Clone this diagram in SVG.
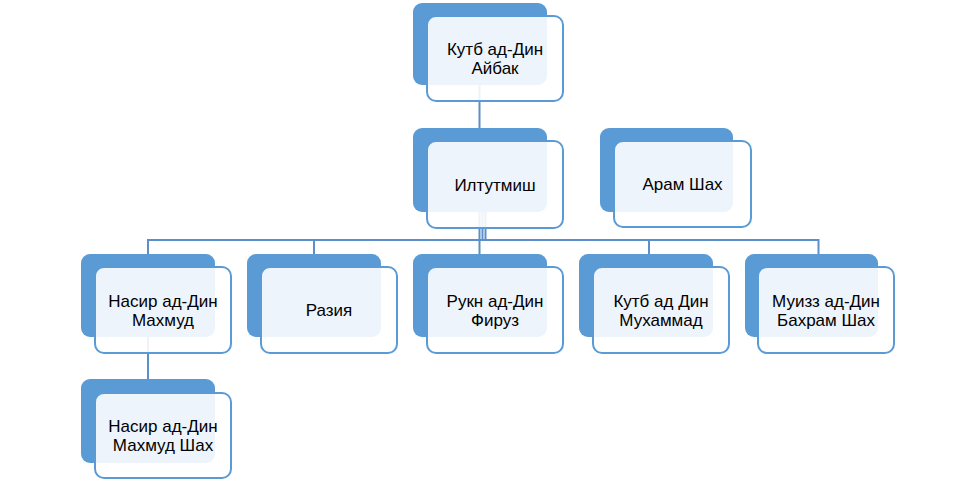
<svg xmlns="http://www.w3.org/2000/svg" width="974" height="480" viewBox="0 0 974 480">
<style>
.bg{fill:#5B9BD5}
.fr{fill:#FFFFFF;fill-opacity:0.89;stroke:#5B9BD5;stroke-width:2}
.t{font-family:"Liberation Sans",Arial,sans-serif;font-size:17px;fill:#000;text-anchor:middle}
.c{fill:none;stroke:#5B8FCB;stroke-width:2}
</style>
<rect width="974" height="480" fill="#FFFFFF"/>
<g id="connectors">
<path class="c" d="M479.5 85V128"/>
<path class="c" d="M479.5 212V240M482.5 212V240M485.5 212V240"/>
<path class="c" d="M148 254V240H818.5V254M314 240V254M479.5 240V254M649 240V254"/>
<path class="c" d="M148 337V379"/>
</g>
<g id="n-aibak">
<rect class="bg" x="413" y="3" width="134" height="82" rx="9"/>
<rect class="fr" x="427" y="16" width="136" height="85" rx="9"/>
<text class="t" x="495" y="55">Кутб ад-Дин</text>
<text class="t" x="495" y="74">Айбак</text>
</g>
<g id="n-iltutmish">
<rect class="bg" x="413" y="128" width="134" height="84" rx="9"/>
<rect class="fr" x="427" y="141" width="136" height="87" rx="9"/>
<text class="t" x="495" y="190.5">Илтутмиш</text>
</g>
<g id="n-aram">
<rect class="bg" x="600" y="128" width="133" height="84" rx="9"/>
<rect class="fr" x="614" y="141" width="137" height="86" rx="9"/>
<text class="t" x="682.5" y="190">Арам Шах</text>
</g>
<g id="n-nasir">
<rect class="bg" x="81" y="254" width="134" height="83" rx="9"/>
<rect class="fr" x="95" y="267" width="136" height="86" rx="9"/>
<text class="t" x="163" y="306.5">Насир ад-Дин</text>
<text class="t" x="163" y="325.5">Махмуд</text>
</g>
<g id="n-razia">
<rect class="bg" x="247" y="254" width="134" height="83" rx="9"/>
<rect class="fr" x="261" y="267" width="136" height="86" rx="9"/>
<text class="t" x="329" y="316">Разия</text>
</g>
<g id="n-rukn">
<rect class="bg" x="413" y="254" width="134" height="83" rx="9"/>
<rect class="fr" x="427" y="267" width="136" height="86" rx="9"/>
<text class="t" x="495" y="306.5">Рукн ад-Дин</text>
<text class="t" x="495" y="325.5">Фируз</text>
</g>
<g id="n-qutb-muhammad">
<rect class="bg" x="579" y="254" width="134" height="83" rx="9"/>
<rect class="fr" x="593" y="267" width="136" height="86" rx="9"/>
<text class="t" x="661" y="306.5">Кутб ад Дин</text>
<text class="t" x="661" y="325.5">Мухаммад</text>
</g>
<g id="n-muizz">
<rect class="bg" x="745" y="254" width="133" height="83" rx="9"/>
<rect class="fr" x="758" y="267" width="136" height="86" rx="9"/>
<text class="t" x="826" y="306.5">Муизз ад-Дин</text>
<text class="t" x="826" y="325.5">Бахрам Шах</text>
</g>
<g id="n-nasir-shah">
<rect class="bg" x="81" y="379" width="134" height="84" rx="9"/>
<rect class="fr" x="95" y="393" width="136" height="85" rx="9"/>
<text class="t" x="163" y="432">Насир ад-Дин</text>
<text class="t" x="163" y="451">Махмуд Шах</text>
</g>
</svg>
